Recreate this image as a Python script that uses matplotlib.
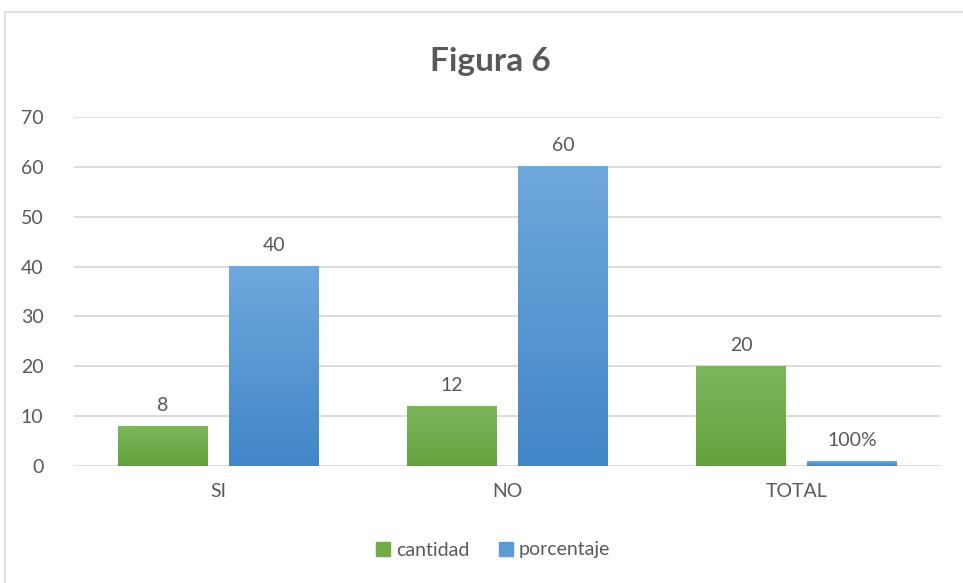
import numpy as np
import matplotlib
matplotlib.use("Agg")
import matplotlib.pyplot as plt
from matplotlib.patches import Rectangle

categorias = ["SI", "NO", "TOTAL"]
cantidad = [8, 12, 20]
porcentaje = [40, 60, 1]
etiq_cantidad = ["8", "12", "20"]
etiq_porcentaje = ["40", "60", "100%"]

gris = "#595959"
plt.rcParams["font.family"] = ["Lato", "DejaVu Sans"]

fig = plt.figure(figsize=(9.63, 5.83), dpi=100)
ax = fig.add_axes([74/963, 1-466/583, (941-74)/963, (466-117)/583])

# borde del grafico
fig.patches.append(Rectangle((5/963, -0.05), 1.1, 0.979+0.05, transform=fig.transFigure,
                             fill=False, edgecolor="#d9d9d9", linewidth=1.2))

x = np.arange(len(categorias))
ancho = 0.311
off = 0.192

def barra_degradado(ax, xc, h, c_top, c_bot):
    grad = np.linspace(0, 1, 100).reshape(-1, 1)
    cmap = matplotlib.colors.LinearSegmentedColormap.from_list("g", [c_bot, c_top])
    ax.imshow(grad, extent=[xc - ancho/2, xc + ancho/2, 0, h], origin="lower",
              aspect="auto", cmap=cmap, zorder=3)

for i in range(len(x)):
    barra_degradado(ax, x[i] - off, cantidad[i], "#7db65f", "#62a23a")
    barra_degradado(ax, x[i] + off, porcentaje[i], "#6fa8dc", "#4186c8")
    ax.text(x[i] - off, cantidad[i] + 2.5, etiq_cantidad[i], ha="center", va="bottom",
            fontsize=14, color=gris)
    ax.text(x[i] + off, porcentaje[i] + 2.5, etiq_porcentaje[i], ha="center", va="bottom",
            fontsize=14, color=gris)

ax.set_xlim(-0.5, 2.5)
ax.set_ylim(0, 70)
ax.set_yticks(range(0, 71, 10))
ax.set_xticks(x)
ax.set_xticklabels(categorias)
ax.grid(axis="y", color="#d9d9d9", linewidth=1.3, zorder=0)
ax.set_axisbelow(True)
for s in ax.spines.values():
    s.set_visible(False)
ax.tick_params(length=0, labelsize=14, labelcolor=gris)
ax.tick_params(axis="y", pad=22)
ax.tick_params(axis="x", pad=12)

fig.text(490/963, 1-62/583, "Figura 6", ha="center", va="center", fontsize=24,
         fontweight="bold", color=gris)

h1 = Rectangle((0, 0), 1, 1, color="#70ad47")
h2 = Rectangle((0, 0), 1, 1, color="#5b9bd5")
fig.legend([h1, h2], ["cantidad", "porcentaje"], loc="center", bbox_to_anchor=(493/963, 1-550/583),
           ncol=2, frameon=False, fontsize=14, labelcolor=gris, handlelength=0.75,
           handleheight=0.75, handletextpad=0.3, columnspacing=1.5)

fig.savefig("out.png", dpi=100)
